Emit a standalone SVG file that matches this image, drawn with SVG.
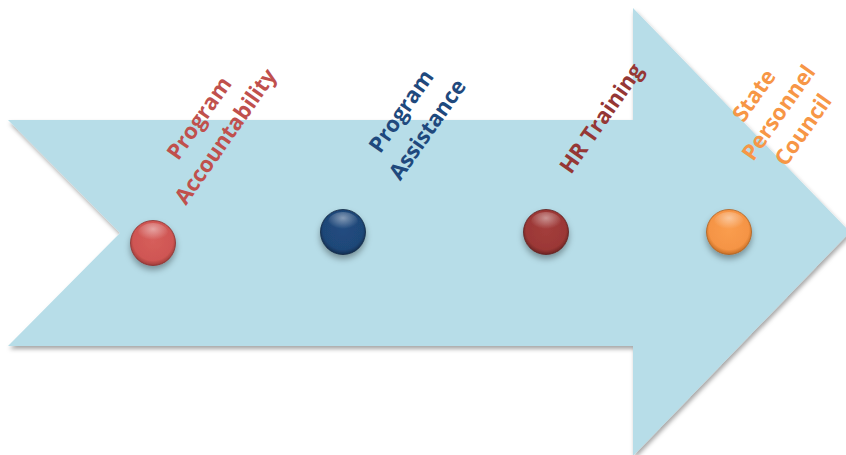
<svg xmlns="http://www.w3.org/2000/svg" width="846" height="455" viewBox="0 0 846 455">
  <defs>
    <filter id="shadow" x="-10%" y="-10%" width="120%" height="120%">
      <feDropShadow dx="1.5" dy="3" stdDeviation="2" flood-color="#000" flood-opacity="0.35"/>
    </filter>
    <filter id="ballShadow" x="-40%" y="-40%" width="180%" height="180%">
      <feDropShadow dx="0" dy="4" stdDeviation="3" flood-color="#000" flood-opacity="0.35"/>
    </filter>
    <radialGradient id="hl" cx="50%" cy="30%" r="55%">
      <stop offset="0" stop-color="#fff" stop-opacity="0.45"/>
      <stop offset="1" stop-color="#fff" stop-opacity="0"/>
    </radialGradient>
    <radialGradient id="gRed" cx="50%" cy="45%" r="55%">
      <stop offset="0" stop-color="#d65e5b"/>
      <stop offset="0.8" stop-color="#cf5653"/>
      <stop offset="1" stop-color="#9e3c3a"/>
    </radialGradient>
    <radialGradient id="gBlue" cx="50%" cy="45%" r="55%">
      <stop offset="0" stop-color="#214c80"/>
      <stop offset="0.8" stop-color="#1f4778"/>
      <stop offset="1" stop-color="#132f52"/>
    </radialGradient>
    <radialGradient id="gDark" cx="50%" cy="45%" r="55%">
      <stop offset="0" stop-color="#a33d3b"/>
      <stop offset="0.8" stop-color="#9b3836"/>
      <stop offset="1" stop-color="#6e2423"/>
    </radialGradient>
    <radialGradient id="gOrange" cx="50%" cy="45%" r="55%">
      <stop offset="0" stop-color="#fa9d4e"/>
      <stop offset="0.8" stop-color="#f59445"/>
      <stop offset="1" stop-color="#c66d24"/>
    </radialGradient>
  </defs>
  <style>
    .lbl { font-family: "Open Sans", "Liberation Sans", sans-serif; font-weight: bold; font-size: 22px; text-anchor: middle; }
    .ball { filter: url(#ballShadow); }
  </style>

  <g id="arrow">
    <polygon points="8,120 633,120 633,8 850,232 633,456 633,346 8,346 120,233" fill="#b7dde8" filter="url(#shadow)"/>
  </g>

  <g id="node-program-accountability">
    <g class="ball">
      <circle cx="153" cy="243" r="22.5" fill="url(#gRed)" stroke="#8a2e2c" stroke-width="0.8"/>
      <ellipse cx="153" cy="233" rx="15" ry="10" fill="url(#hl)"/>
    </g>
    <g transform="translate(212,127) rotate(-55)">
      <text class="lbl" fill="#c0504d"><tspan x="0" y="-8">Program</tspan><tspan x="0" y="24">Accountability</tspan></text>
    </g>
  </g>

  <g id="node-program-assistance">
    <g class="ball">
      <circle cx="343" cy="232" r="22.5" fill="url(#gBlue)" stroke="#0f2440" stroke-width="0.8"/>
      <ellipse cx="343" cy="222" rx="15" ry="10" fill="url(#hl)"/>
    </g>
    <g transform="translate(414,120) rotate(-55)">
      <text class="lbl" fill="#1f497d"><tspan x="0" y="-8">Program</tspan><tspan x="0" y="24">Assistance</tspan></text>
    </g>
  </g>

  <g id="node-hr-training">
    <g class="ball">
      <circle cx="546" cy="232" r="22.5" fill="url(#gDark)" stroke="#5e1e1d" stroke-width="0.8"/>
      <ellipse cx="546" cy="222" rx="15" ry="10" fill="url(#hl)"/>
    </g>
    <g transform="translate(601,118) rotate(-55)">
      <text class="lbl" fill="#953735" x="0" y="8">HR Training</text>
    </g>
  </g>

  <g id="node-state-personnel-council">
    <g class="ball">
      <circle cx="729" cy="232" r="22.5" fill="url(#gOrange)" stroke="#b0611f" stroke-width="0.8"/>
      <ellipse cx="729" cy="222" rx="15" ry="10" fill="url(#hl)"/>
    </g>
    <g transform="translate(779,113) rotate(-55)">
      <text class="lbl" fill="#f79646"><tspan x="0" y="-23">State</tspan><tspan x="0" y="7">Personnel</tspan><tspan x="0" y="37">Council</tspan></text>
    </g>
  </g>

  <g id="connectors"></g>
</svg>
